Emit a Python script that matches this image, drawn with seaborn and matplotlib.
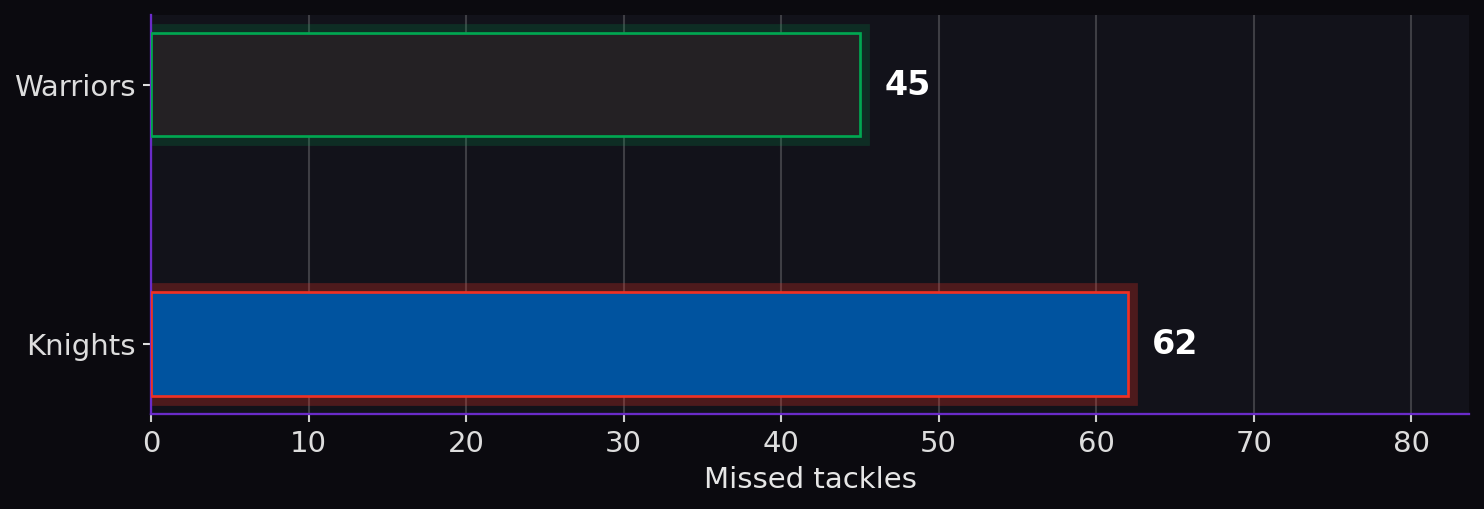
import matplotlib
matplotlib.use("Agg")
import matplotlib.pyplot as plt
import seaborn as sns
import pandas as pd

# data
teams = ["Warriors", "Knights"]
missed_tackles = [45, 62]
fill_colors = ["#242124", "#00539F"]
edge_colors = ["#00A651", "#EE3124"]
glow_alpha = [0.19, 0.27]

df = pd.DataFrame({"team": teams, "missed": missed_tackles})

sns.set_theme(style="dark")
plt.rcParams["font.family"] = ["DejaVu Sans"]

fig, ax = plt.subplots(figsize=(9.8967, 3.3967), dpi=150)
fig.patch.set_facecolor("#0B0A0F")
ax.set_facecolor("#12121A")

# glow layer underneath
sns.barplot(data=df, x="missed", y="team", hue="team", palette=edge_colors,
            saturation=1, width=0.4, legend=False, ax=ax, zorder=2)
for p, c, a in zip(ax.patches, edge_colors, glow_alpha):
    p.set_facecolor("none")
    p.set_edgecolor(c)
    p.set_linewidth(9)
    p.set_alpha(a)

# main bars
sns.barplot(data=df, x="missed", y="team", hue="team", palette=fill_colors,
            saturation=1, width=0.4, legend=False, ax=ax, zorder=3)
main = ax.patches[len(teams):]
for p, c in zip(main, edge_colors):
    p.set_edgecolor(c)
    p.set_linewidth(1.3)

for i, v in enumerate(missed_tackles):
    ax.text(v + 1.55, i, str(v), va="center", ha="left", color="white",
            fontsize=16, fontweight="bold", zorder=5)

ax.set_xlim(0, max(missed_tackles) * 1.35)
ax.set_ylim(1.27, -0.27)
ax.set_xlabel("Missed tackles", color="#E6E6E6", fontsize=14)
ax.set_ylabel("")
ax.tick_params(axis="both", colors="#DDDDDD", labelsize=14, length=4, width=1,
               left=True, bottom=True)
ax.tick_params(axis="x", colors="#CCCCCC", labelcolor="#DDDDDD")

ax.xaxis.grid(True, color="#3E3E44", linewidth=1)
ax.yaxis.grid(False)
ax.set_axisbelow(True)

for s in ["top", "right"]:
    ax.spines[s].set_visible(False)
for s in ["left", "bottom"]:
    ax.spines[s].set_visible(True)
    ax.spines[s].set_color("#6A2BC8")
    ax.spines[s].set_linewidth(1.1)

plt.subplots_adjust(left=151 / 1484, right=1469 / 1484, top=1 - 15 / 509, bottom=1 - 414 / 509)
plt.savefig("out.png", dpi=150, facecolor=fig.get_facecolor())
